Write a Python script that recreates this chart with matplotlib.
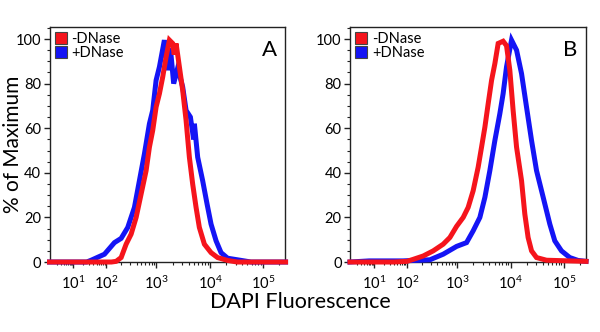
import numpy as np
import matplotlib
matplotlib.use("Agg")
import matplotlib.pyplot as plt
from matplotlib.patches import Patch
from matplotlib.ticker import FixedLocator, MultipleLocator, NullFormatter

plt.rcParams['font.family'] = ['Lato', 'DejaVu Sans']
plt.rcParams['mathtext.fontset'] = 'custom'
plt.rcParams['mathtext.rm'] = 'Lato'
plt.rcParams['mathtext.it'] = 'Lato:italic'

# ---- data: log10(DAPI fluorescence) and % of maximum ----
a_minus_log = [0.0, 2.10, 2.194, 2.294, 2.394, 2.494, 2.594, 2.694, 2.794, 2.86, 2.926, 2.994,
               3.056, 3.117, 3.18, 3.241, 3.302, 3.33, 3.365, 3.426, 3.487, 3.55, 3.611,
               3.672, 3.735, 3.796, 3.889, 4.013, 4.136, 4.326, 4.51, 5.42]
a_minus_pct = [0.0, 0.0, 0.3, 2.0, 8.0, 12.5, 20.0, 30.5, 41.0, 51.5, 59.0, 69.5,
               75.5, 83.0, 92.0, 99.5, 98.0, 93.0, 98.0, 87.5, 77.0, 63.5, 47.0,
               35.0, 24.5, 15.5, 8.0, 4.2, 2.0, 0.7, 0.0, 0.0]

a_plus_log = [0.0, 1.40, 1.536, 1.94, 2.16, 2.294, 2.426, 2.56, 2.66, 2.76, 2.86, 2.926,
              2.994, 3.056, 3.148, 3.209, 3.259, 3.32, 3.394, 3.487, 3.55, 3.63, 3.69,
              3.704, 3.765, 3.857, 3.939, 4.013, 4.108, 4.202, 4.326, 4.64, 4.766, 5.42]
a_plus_pct = [0.0, 0.0, 0.8, 3.5, 8.7, 10.6, 15.5, 24.5, 36.5, 48.5, 62.0, 68.0,
              81.5, 87.5, 99.5, 86.0, 96.0, 80.0, 87.0, 78.5, 68.0, 65.0, 55.0,
              62.0, 47.0, 36.5, 26.0, 17.0, 9.5, 4.2, 1.7, 0.5, 0.0, 0.0]

b_minus_log = [0.0, 1.6, 2.0, 2.126, 2.326, 2.526, 2.726, 2.86, 2.994, 3.117, 3.209, 3.302,
               3.394, 3.457, 3.519, 3.58, 3.643, 3.704, 3.765, 3.857, 3.92, 3.981, 4.043,
               4.108, 4.202, 4.264, 4.326, 4.391, 4.485, 4.674, 5.113, 5.42]
b_minus_pct = [0.0, 0.0, 0.3, 1.2, 2.7, 5.0, 8.0, 11.0, 16.0, 20.0, 24.5, 32.0,
               42.5, 51.5, 60.5, 71.0, 81.5, 89.0, 98.0, 99.0, 97.0, 86.0, 68.0,
               51.5, 36.5, 21.5, 11.0, 5.0, 2.0, 0.8, 0.5, 0.3]

b_plus_log = [0.0, 0.8, 1.88, 2.46, 2.726, 2.994, 3.179, 3.302, 3.426, 3.519, 3.611, 3.704,
              3.796, 3.857, 3.92, 4.013, 4.108, 4.202, 4.296, 4.391, 4.485, 4.611, 4.736,
              4.83, 4.956, 5.113, 5.27, 5.42]
b_plus_pct = [0.0, 0.5, 0.5, 1.0, 3.5, 7.0, 8.7, 14.0, 20.0, 29.0, 41.0, 54.5,
              66.5, 75.5, 87.5, 99.5, 95.0, 84.5, 69.5, 54.5, 41.0, 29.0, 17.0,
              9.5, 5.0, 2.0, 0.7, 0.3]

panel_letters = ['A', 'B']
series_labels = ['-DNase', '+DNase']
tick_exponents = [1, 2, 3, 4, 5]
y_ticks = [0, 20, 40, 60, 80, 100]

RED = '#f5141c'
BLUE = '#1414f5'

# ---- logicle-like display scale (knots of the cytometry axis) ----
_knot_log = np.array([-1, 0, 1, 2, 3, 4, 5, 6], dtype=float)
_knot_pos = np.array([-24, 0, 24, 57, 107, 161, 214, 267], dtype=float)


def fwd(x):
    x = np.asarray(x, dtype=float)
    with np.errstate(divide='ignore', invalid='ignore'):
        lg = np.log10(np.clip(x, 1e-1, None))
    return np.interp(lg, _knot_log, _knot_pos)


def inv(p):
    p = np.asarray(p, dtype=float)
    return 10 ** np.interp(p, _knot_pos, _knot_log)


fig = plt.figure(figsize=(6.0, 3.32), dpi=100)
ax_w, ax_h = 0.3933, 0.708
axA = fig.add_axes([0.0825, 0.2108, ax_w, ax_h])
axB = fig.add_axes([0.5833, 0.2108, ax_w, ax_h])

data = [
    (axA, a_minus_log, a_minus_pct, a_plus_log, a_plus_pct),
    (axB, b_minus_log, b_minus_pct, b_plus_log, b_plus_pct),
]

major = [10.0 ** e for e in tick_exponents]
minor = [k * 10.0 ** n for n in range(0, 6) for k in range(2, 10)]
minor = [m for m in minor if m < 262144]

for (ax, mlog, mpct, plog, ppct), letter in zip(data, panel_letters):
    ax.set_xscale('function', functions=(fwd, inv))
    ax.plot(10 ** np.array(plog), ppct, color=BLUE, lw=3.6, solid_joinstyle='miter',
            clip_on=False, zorder=3)
    ax.plot(10 ** np.array(mlog), mpct, color=RED, lw=3.6, solid_joinstyle='miter',
            clip_on=False, zorder=4)
    ax.set_xlim(1.0, 262144)
    ax.set_ylim(0, 105.4)
    ax.xaxis.set_major_locator(FixedLocator(major))
    ax.xaxis.set_minor_locator(FixedLocator(minor))
    ax.xaxis.set_minor_formatter(NullFormatter())
    ax.set_xticklabels([r'$\mathregular{10^{%d}}$' % e for e in tick_exponents])
    ax.yaxis.set_major_locator(FixedLocator(y_ticks))
    ax.yaxis.set_minor_locator(MultipleLocator(5))
    ax.tick_params(axis='both', which='major', direction='out', length=4, width=1,
                   labelsize=10.5, color='#222222')
    ax.tick_params(axis='both', which='minor', direction='out', length=2.2, width=0.8,
                   color='#222222')
    ax.tick_params(axis='x', which='major', pad=5)
    ax.tick_params(axis='y', which='major', pad=2)
    for s in ax.spines.values():
        s.set_linewidth(1.0)
        s.set_color('#222222')
    ax.text(0.965, 0.945, letter, transform=ax.transAxes, ha='right', va='top',
            fontsize=16)
    handles = [Patch(facecolor=RED, edgecolor='#444444', linewidth=0.8),
               Patch(facecolor=BLUE, edgecolor='#444444', linewidth=0.8)]
    ax.legend(handles, series_labels, loc='upper left', frameon=False, fontsize=10.5,
              handlelength=0.85, handleheight=0.85, handletextpad=0.3,
              labelspacing=0.0, borderaxespad=0.15, borderpad=0.2)

fig.text(0.022, 0.565, '% of Maximum', rotation=90, ha='center', va='center', fontsize=15)
fig.text(0.5, 0.09, 'DAPI Fluorescence', ha='center', va='center', fontsize=15.5)

fig.savefig('out.png', dpi=100)
